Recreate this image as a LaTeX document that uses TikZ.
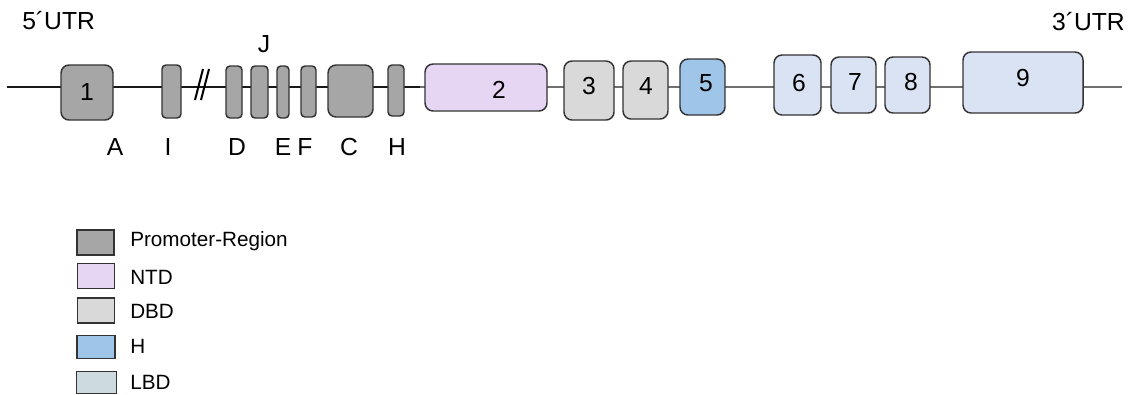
\documentclass[tikz,border=0pt]{standalone}
\usepackage{fontspec}
\setmainfont{Liberation Sans}
\definecolor{promo}{HTML}{A6A6A6}
\definecolor{ntd}{HTML}{E7D5F4}
\definecolor{dbd}{HTML}{D9D9D9}
\definecolor{hcol}{HTML}{9FC5E8}
\definecolor{lbd}{HTML}{DAE3F3}
\definecolor{lbdleg}{HTML}{CDDBE0}
\definecolor{edge}{HTML}{333333}
\definecolor{greyline}{HTML}{707070}
\begin{document}
\begin{tikzpicture}[x=0.75pt,y=-0.75pt,
  exon/.style={draw=edge,line width=1.1pt,rounded corners=6pt,inner sep=0pt,outer sep=0pt,minimum width=#1},
  thin/.style={draw=edge,line width=1.1pt,rounded corners=3pt,inner sep=0pt,outer sep=0pt,minimum width=#1},
  big/.style={font=\fontsize{18.5}{20}\selectfont,inner sep=0pt},
  leg/.style={font=\fontsize{15.5}{17}\selectfont,inner sep=0pt,anchor=west},
  legbox/.style={draw=edge,line width=1.1pt,inner sep=0pt,minimum width=28pt,minimum height=18.5pt}]
\useasboundingbox (0,0) rectangle (1134,394);
% backbone
\coordinate (start) at (7,86.7);
\coordinate (mid) at (420,86.7);
\coordinate (stop) at (1122,86.7);
\draw[line width=1.4pt,black!90] (start) -- (mid);
\draw[line width=1.8pt,greyline] (mid) -- (stop);
% break mark
\coordinate (b1a) at (195,100); \coordinate (b1b) at (203,69);
\coordinate (b2a) at (201,100); \coordinate (b2b) at (209,69);
\draw[line width=1.5pt,black] (b1a) -- (b1b);
\draw[line width=1.5pt,black] (b2a) -- (b2b);
% exons
\node[exon=39pt,minimum height=41.25pt,fill=promo] (e1) at (87,92.5) {};
\node[thin=14.25pt,minimum height=39.75pt,fill=promo] (xI) at (171.5,91.5) {};
\node[thin=12pt,minimum height=39pt,fill=promo] (xD) at (234,92) {};
\node[thin=12.75pt,minimum height=39pt,fill=promo] (xJ) at (259.5,92) {};
\node[thin=9pt,minimum height=39pt,fill=promo] (xE) at (283,92) {};
\node[thin=11.25pt,minimum height=38.25pt,fill=promo] (xF) at (308.5,91.5) {};
\node[exon=33.75pt,minimum height=39pt,fill=promo] (xC) at (350.5,91) {};
\node[thin=12pt,minimum height=38.25pt,fill=promo] (xH) at (396,90.5) {};
\node[exon=91.5pt,minimum height=35.25pt,fill=ntd] (e2) at (486,87.5) {};
\node[exon=37.5pt,minimum height=44.25pt,fill=dbd] (e3) at (589,90.5) {};
\node[exon=33.75pt,minimum height=43.5pt,fill=dbd] (e4) at (645.5,90) {};
\node[exon=33.75pt,minimum height=42pt,fill=hcol] (e5) at (702.5,87) {};
\node[exon=35.25pt,minimum height=45pt,fill=lbd] (e6) at (797.5,85) {};
\node[exon=33.75pt,minimum height=42pt,fill=lbd] (e7) at (853.5,85) {};
\node[exon=33.75pt,minimum height=42pt,fill=lbd] (e8) at (907.5,85) {};
\node[exon=90pt,minimum height=45.75pt,fill=lbd] (e9) at (1023,82.5) {};
% exon numbers
\node[big] (n1) at (87,92) {1};
\node[big] (n2) at (499,90) {2};
\node[big] (n3) at (589,86) {3};
\node[big] (n4) at (646,86) {4};
\node[big] (n5) at (706,83) {5};
\node[big] (n6) at (799,83) {6};
\node[big] (n7) at (855,82) {7};
\node[big] (n8) at (911,82.5) {8};
\node[big] (n9) at (1023,78) {9};
% letters
\node[big] (lA) at (115,147.5) {A};
\node[big] (lI) at (168,147.5) {I};
\node[big] (lD) at (237,147.5) {D};
\node[big] (lE) at (283,147.5) {E};
\node[big] (lF) at (305,147.5) {F};
\node[big] (lC) at (349,147.5) {C};
\node[big] (lH) at (397,147.5) {H};
\node[big] (lJ) at (264,44) {J};
\node[big,anchor=west] (u5) at (22,21) {5´UTR};
\node[big,anchor=east] (u3) at (1125,22) {3´UTR};
% legend
\node[legbox,fill=promo] (k1) at (95.5,242.5) {};
\node[legbox,fill=ntd] (k2) at (96,276) {};
\node[legbox,fill=dbd,minimum height=19pt] (k3) at (96,310.5) {};
\node[legbox,fill=hcol,minimum width=28.5pt,minimum height=17pt] (k4) at (96,347) {};
\node[legbox,fill=lbdleg,minimum width=30pt,minimum height=16.5pt] (k5) at (96.5,382.5) {};
\node[leg] (t1) at (130,241) {Promoter-Region};
\node[leg] (t2) at (130,277) {NTD};
\node[leg] (t3) at (130,311) {DBD};
\node[leg] (t4) at (130,346) {H};
\node[leg] (t5) at (130,382) {LBD};
\end{tikzpicture}
\end{document}
